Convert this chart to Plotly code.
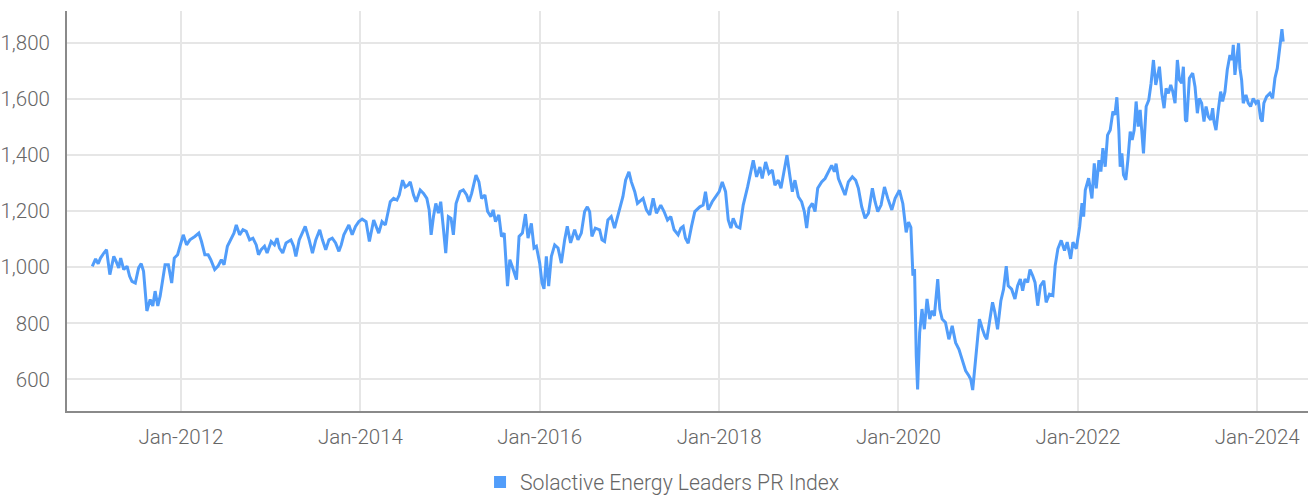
import numpy as np
import pandas as pd
import plotly.graph_objects as go

series_name = "Solactive Energy Leaders PR Index"

# time as decimal years
t_year = [
    2011.011, 2011.048, 2011.077, 2011.103, 2011.140, 2011.170, 2011.207, 2011.251, 2011.277, 2011.306,
    2011.328, 2011.362, 2011.399, 2011.428, 2011.454, 2011.491, 2011.528, 2011.557, 2011.583, 2011.601,
    2011.620, 2011.657, 2011.686, 2011.712, 2011.742, 2011.768, 2011.804, 2011.823, 2011.860, 2011.897,
    2011.926, 2011.963, 2011.989, 2012.026, 2012.063, 2012.100, 2012.155, 2012.199, 2012.229, 2012.266,
    2012.303, 2012.332, 2012.376, 2012.413, 2012.450, 2012.480, 2012.517, 2012.561, 2012.590, 2012.616,
    2012.653, 2012.690, 2012.727, 2012.764, 2012.801, 2012.838, 2012.863, 2012.893, 2012.930, 2012.959,
    2013.004, 2013.041, 2013.070, 2013.096, 2013.133, 2013.170, 2013.225, 2013.255, 2013.280, 2013.317,
    2013.354, 2013.384, 2013.428, 2013.465, 2013.502, 2013.546, 2013.576, 2013.613, 2013.649, 2013.686,
    2013.723, 2013.760, 2013.786, 2013.815, 2013.871, 2013.908, 2013.945, 2013.982,
    2014.019, 2014.063, 2014.100, 2014.148, 2014.204, 2014.241, 2014.278, 2014.307, 2014.333, 2014.370,
    2014.407, 2014.433, 2014.470, 2014.500, 2014.530, 2014.556, 2014.593, 2014.622, 2014.667, 2014.704,
    2014.741, 2014.767, 2014.789, 2014.815, 2014.841, 2014.870, 2014.896, 2014.922, 2014.952, 2014.981,
    2015.011, 2015.037, 2015.067, 2015.111, 2015.148, 2015.185, 2015.211, 2015.241, 2015.259, 2015.289,
    2015.322, 2015.352, 2015.389, 2015.419, 2015.456, 2015.481, 2015.507, 2015.544, 2015.574, 2015.604,
    2015.641, 2015.667, 2015.693, 2015.741, 2015.770, 2015.807, 2015.841, 2015.870, 2015.907, 2015.937,
    2015.963, 2016.000, 2016.026, 2016.048, 2016.074, 2016.100, 2016.130, 2016.167, 2016.204, 2016.241,
    2016.278, 2016.307, 2016.344, 2016.389, 2016.426, 2016.463, 2016.500, 2016.530, 2016.556, 2016.581,
    2016.619, 2016.667, 2016.693, 2016.722, 2016.759, 2016.796, 2016.833, 2016.870, 2016.900, 2016.926,
    2016.956, 2016.993,
    2017.020, 2017.058, 2017.088, 2017.125, 2017.151, 2017.188, 2017.225, 2017.263, 2017.300, 2017.348,
    2017.385, 2017.423, 2017.460, 2017.497, 2017.542, 2017.572, 2017.598, 2017.624, 2017.654, 2017.691,
    2017.728, 2017.784, 2017.821, 2017.847, 2017.877, 2017.922, 2017.970, 2018.000, 2018.034, 2018.071,
    2018.101, 2018.130, 2018.156, 2018.194, 2018.231, 2018.268, 2018.317, 2018.354, 2018.380, 2018.417,
    2018.454, 2018.480, 2018.518, 2018.555, 2018.592, 2018.622, 2018.659, 2018.689, 2018.726, 2018.756,
    2018.790, 2018.816, 2018.845, 2018.883, 2018.920, 2018.950, 2018.976, 2019.002, 2019.039, 2019.069,
    2019.099, 2019.143, 2019.181, 2019.218, 2019.255, 2019.285, 2019.304, 2019.330, 2019.367, 2019.404,
    2019.441, 2019.486, 2019.523, 2019.553, 2019.590, 2019.628, 2019.665, 2019.709, 2019.739, 2019.769,
    2019.806, 2019.844, 2019.881, 2019.926, 2019.963,
    2020.011, 2020.049, 2020.086, 2020.112, 2020.138, 2020.161, 2020.179, 2020.198, 2020.213, 2020.236,
    2020.262, 2020.288, 2020.318, 2020.348, 2020.374, 2020.400, 2020.437, 2020.460, 2020.486, 2020.523,
    2020.561, 2020.598, 2020.636, 2020.673, 2020.710, 2020.748, 2020.785, 2020.804, 2020.826, 2020.849,
    2020.879, 2020.901, 2020.935, 2020.961, 2020.983, 2021.009, 2021.047, 2021.073, 2021.103, 2021.140,
    2021.170, 2021.200, 2021.222, 2021.260, 2021.297, 2021.327, 2021.357, 2021.383, 2021.409, 2021.439,
    2021.465, 2021.495, 2021.521, 2021.551, 2021.581, 2021.619, 2021.645, 2021.682, 2021.720, 2021.746,
    2021.776, 2021.813, 2021.850, 2021.880, 2021.918, 2021.944, 2021.981,
    2022.019, 2022.045, 2022.063, 2022.082, 2022.119, 2022.156, 2022.182, 2022.204, 2022.234, 2022.256,
    2022.278, 2022.304, 2022.330, 2022.360, 2022.390, 2022.412, 2022.434, 2022.456, 2022.471, 2022.490,
    2022.508, 2022.534, 2022.557, 2022.583, 2022.605, 2022.627, 2022.649, 2022.672, 2022.694, 2022.712,
    2022.731, 2022.761, 2022.790, 2022.816, 2022.842, 2022.868, 2022.887, 2022.909, 2022.935, 2022.961,
    2022.983, 2023.009, 2023.035, 2023.058, 2023.083, 2023.109, 2023.132, 2023.158, 2023.176, 2023.199,
    2023.213, 2023.243, 2023.280, 2023.306, 2023.332, 2023.354, 2023.380, 2023.406, 2023.429, 2023.455,
    2023.481, 2023.503, 2023.518, 2023.540, 2023.566, 2023.592, 2023.614, 2023.640, 2023.666, 2023.696,
    2023.718, 2023.733, 2023.751, 2023.770, 2023.792, 2023.807, 2023.826, 2023.844, 2023.874, 2023.900,
    2023.926, 2023.955, 2023.985, 2024.011, 2024.037, 2024.056, 2024.074, 2024.104, 2024.141, 2024.171,
    2024.197, 2024.223, 2024.245, 2024.260, 2024.275, 2024.289,
]

index_value = [
    1003, 1030, 1013, 1033, 1051, 1063, 974, 1039, 1021, 998,
    1033, 992, 1004, 968, 950, 944, 998, 1013, 986, 897,
    844, 885, 862, 915, 862, 897, 980, 1009, 1009, 944,
    1033, 1045, 1075, 1116, 1080, 1098, 1110, 1122, 1092, 1045,
    1045, 1027, 992, 1004, 1027, 1009, 1075, 1104, 1122, 1151,
    1116, 1134, 1128, 1098, 1104, 1080, 1045, 1063, 1075, 1051,
    1092, 1080, 1104, 1069, 1051, 1087, 1098, 1075, 1039, 1098,
    1122, 1146, 1098, 1051, 1098, 1134, 1098, 1063, 1098, 1104,
    1087, 1057, 1080, 1116, 1151, 1116, 1146, 1163,
    1172, 1163, 1092, 1169, 1122, 1163, 1151, 1199, 1234, 1246,
    1240, 1258, 1311, 1287, 1293, 1305, 1258, 1234, 1276, 1264,
    1246, 1205, 1116, 1181, 1228, 1193, 1234, 1151, 1051, 1181,
    1175, 1116, 1228, 1270, 1276, 1258, 1234, 1264, 1293, 1329,
    1305, 1246, 1258, 1199, 1181, 1205, 1163, 1187, 1110, 1122,
    933, 1027, 1004, 956, 1110, 1122, 1190, 1104, 1157, 1069,
    1075, 1015, 944, 923, 1039, 933, 1039, 1080, 1069, 1015,
    1098, 1146, 1087, 1134, 1098, 1122, 1199, 1216, 1199, 1110,
    1140, 1134, 1098, 1092, 1169, 1181, 1140, 1181, 1222, 1252,
    1311, 1341,
    1305, 1270, 1228, 1240, 1246, 1205, 1187, 1246, 1193, 1222,
    1199, 1169, 1181, 1134, 1116, 1140, 1146, 1104, 1086, 1146,
    1199, 1216, 1222, 1270, 1205, 1234, 1258, 1270, 1305, 1270,
    1169, 1140, 1175, 1146, 1140, 1222, 1287, 1341, 1382, 1323,
    1358, 1317, 1376, 1335, 1347, 1293, 1311, 1282, 1347, 1400,
    1323, 1270, 1311, 1252, 1234, 1199, 1140, 1211, 1228, 1199,
    1282, 1305, 1317, 1341, 1364, 1341, 1370, 1317, 1287, 1258,
    1305, 1323, 1311, 1282, 1216, 1175, 1193, 1282, 1234, 1199,
    1222, 1287, 1246, 1205, 1246,
    1275, 1227, 1125, 1161, 1143, 970, 994, 684, 564, 767,
    851, 779, 887, 815, 845, 827, 958, 851, 815, 803,
    743, 791, 731, 707, 672, 630, 612, 600, 562, 648,
    731, 815, 779, 755, 743, 791, 875, 839, 779, 881,
    922, 1004, 934, 922, 887, 934, 958, 916, 958, 946,
    992, 970, 946, 863, 934, 952, 875, 904, 899, 1006,
    1066, 1096, 1060, 1090, 1030, 1090, 1066,
    1145, 1229, 1181, 1276, 1318, 1246, 1371, 1282, 1383, 1342,
    1425, 1359, 1472, 1490, 1556, 1544, 1607, 1490, 1359, 1407,
    1330, 1312, 1383, 1484, 1455, 1490, 1592, 1502, 1562, 1490,
    1407, 1574, 1597, 1657, 1740, 1651, 1687, 1716, 1621, 1568,
    1639, 1621, 1651, 1627, 1586, 1740, 1669, 1657, 1716, 1526,
    1520, 1675, 1693, 1645, 1550, 1603, 1586, 1520, 1574, 1538,
    1526, 1568, 1520, 1490, 1562, 1627, 1592, 1627, 1705, 1758,
    1740, 1794, 1687, 1740, 1800, 1710, 1669, 1586, 1615, 1586,
    1574, 1603, 1586, 1597, 1532, 1520, 1586, 1609, 1621, 1603,
    1675, 1710, 1764, 1794, 1850, 1806,
]

y_tick_values = [600, 800, 1000, 1200, 1400, 1600, 1800]
x_tick_years = [2012, 2014, 2016, 2018, 2020, 2022, 2024]
x_tick_labels = ["Jan-2012", "Jan-2014", "Jan-2016", "Jan-2018", "Jan-2020", "Jan-2022", "Jan-2024"]


def year_to_date(y):
    yr = int(np.floor(y))
    start = pd.Timestamp(year=yr, month=1, day=1)
    end = pd.Timestamp(year=yr + 1, month=1, day=1)
    return start + (end - start) * (y - yr)


dates = [year_to_date(v) for v in t_year]
tick_dates = [pd.Timestamp(year=y, month=1, day=1) for y in x_tick_years]

LINE = "#519dfa"
FONT = "Roboto, sans-serif"
TXT = dict(family=FONT, size=20.5, color="#666666", weight=300)
LEG = dict(family=FONT, size=21.2, color="#666666", weight=300)

fig = go.Figure()
fig.add_trace(go.Scatter(
    x=dates, y=index_value, mode="lines",
    line=dict(color=LINE, width=3),
    name=series_name, showlegend=False,
))
fig.add_trace(go.Scatter(
    x=[None], y=[None], mode="markers",
    marker=dict(symbol="square", size=12, color=LINE),
    name=series_name, showlegend=True,
))

fig.update_layout(
    width=1308, height=496,
    margin=dict(l=67, r=0, t=11, b=85),
    paper_bgcolor="white", plot_bgcolor="white",
    font=TXT,
    legend=dict(
        orientation="h", xref="container", yref="container",
        x=0.367, xanchor="left", y=0.028, yanchor="middle",
        font=LEG, itemwidth=30, bgcolor="rgba(0,0,0,0)",
    ),
    xaxis=dict(
        range=[year_to_date(2010.729), year_to_date(2024.565)],
        tickvals=tick_dates, ticktext=x_tick_labels,
        showgrid=True, gridcolor="#e6e6e6", gridwidth=2,
        showline=True, linecolor="#8a8a8a", linewidth=2,
        ticks="", ticklabelstandoff=6, automargin=False,
        zeroline=False, tickfont=TXT,
    ),
    yaxis=dict(
        range=[487, 1915],
        tickvals=y_tick_values, tickformat=",",
        showgrid=True, gridcolor="#e6e6e6", gridwidth=2,
        showline=True, linecolor="#8a8a8a", linewidth=2,
        ticks="", ticklabelstandoff=11, automargin=False,
        zeroline=False, tickfont=TXT,
    ),
)

fig.write_html(
    "out.html",
    config={"displayModeBar": False},
    post_script="document.body.style.margin='0';document.body.style.overflow='hidden';",
)
